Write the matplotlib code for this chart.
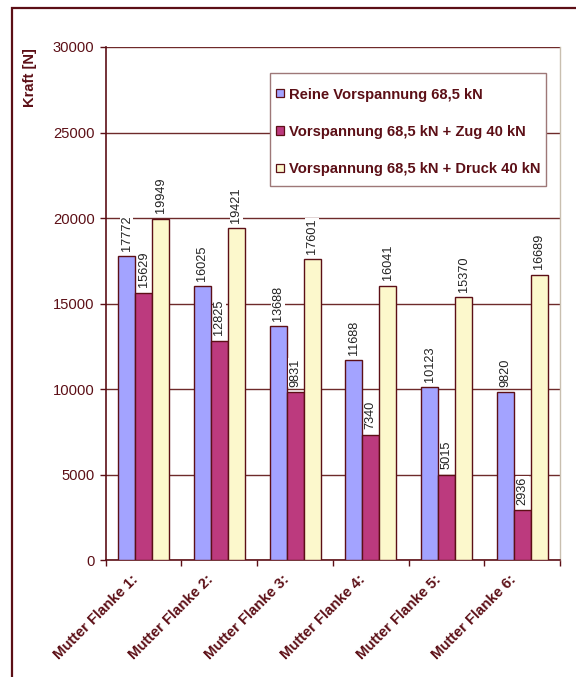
import matplotlib
matplotlib.use("Agg")
import matplotlib.pyplot as plt
import matplotlib.transforms as mtransforms
from matplotlib.patches import Rectangle
import numpy as np

plt.rcParams['font.family'] = ['Liberation Sans', 'DejaVu Sans']

categories = ["Mutter Flanke 1:", "Mutter Flanke 2:", "Mutter Flanke 3:",
              "Mutter Flanke 4:", "Mutter Flanke 5:", "Mutter Flanke 6:"]
series_names = ["Reine Vorspannung 68,5 kN",
                "Vorspannung 68,5 kN + Zug 40 kN",
                "Vorspannung 68,5 kN + Druck 40 kN"]
rein = [17772, 16025, 13688, 11688, 10123, 9820]
zug = [15629, 12825, 9831, 7340, 5015, 2936]
druck = [19949, 19421, 17601, 16041, 15370, 16689]
yticks = [0, 5000, 10000, 15000, 20000, 25000, 30000]

colors = ["#A3A3FF", "#BC3A7E", "#FCF8CC"]
maroon = "#5C0F16"
grid_col = "#6E2A2A"
fs = 10.6

W, H = 576, 677
fig = plt.figure(figsize=(W / 100, H / 100), dpi=100)
ax = fig.add_axes([0.1835, 0.1721, 0.789, 0.7585])


def px(x, y):
    """pixel position (top-left origin) -> figure fraction"""
    return x / W, 1 - y / H


# outer chart frame
fig.patches.append(Rectangle((12 / W, -0.05), 1.2, 1 - 8 / H + 0.05,
                             transform=fig.transFigure, fill=False,
                             edgecolor=maroon, linewidth=1.6, zorder=0))

n = len(categories)
x = np.arange(n)
w = 0.224
for i, (vals, col) in enumerate(zip([rein, zug, druck], colors)):
    pos = x + (i - 1) * w
    ax.bar(pos, vals, width=w, color=col, edgecolor=maroon, linewidth=1.0,
           zorder=3)
    for xp, v in zip(pos, vals):
        ax.annotate(str(v), (xp, v), xytext=(0, 4), textcoords="offset points",
                    rotation=90, ha="center", va="bottom", fontsize=9.2,
                    color="#222222", zorder=4,
                    bbox=dict(boxstyle="square,pad=0.05", fc="white", ec="none"))

ax.set_xlim(-0.5, n - 0.5)
ax.set_ylim(0, 30000)
ax.set_yticks(yticks)
ax.set_yticklabels([str(t) for t in yticks], fontsize=fs, color=maroon)
ax.yaxis.grid(True, color=grid_col, linewidth=1.0, zorder=0)
ax.set_axisbelow(True)

# ticks between categories; category names drawn diagonally below
ax.set_xticks(np.arange(-0.5, n, 1.0))
ax.set_xticklabels([])
ax.tick_params(axis="x", which="major", length=4, width=1.0, color=maroon,
               direction="out")
ax.tick_params(axis="y", length=4, width=1.0, color=maroon, direction="out", pad=4)
lab_tr = ax.get_xaxis_transform() + mtransforms.ScaledTranslation(
    -13 / 100, -12 / 100, fig.dpi_scale_trans)
for xi, name in zip(x, categories):
    ax.text(xi, 0, name, transform=lab_tr, rotation=45, ha="right", va="top",
            rotation_mode="anchor", fontsize=fs, fontweight="bold",
            color=maroon, clip_on=False)

for side in ["left", "bottom"]:
    ax.spines[side].set_color(maroon)
    ax.spines[side].set_linewidth(1.2)
ax.spines["top"].set_visible(False)
ax.spines["right"].set_color("#C9BFAF")
ax.spines["right"].set_linewidth(1.0)

fig.text(*px(30, 78), "Kraft [N]", rotation=90, ha="center",
         va="center", fontsize=fs, fontweight="bold", color=maroon)

# legend box
lx0, ly0, lx1, ly1 = 270, 73, 546, 186
bx, by = px(lx0, ly1)
fig.patches.append(Rectangle((bx, by), (lx1 - lx0) / W, (ly1 - ly0) / H,
                             transform=fig.transFigure, facecolor="white",
                             edgecolor="#9E7878", linewidth=1.0, zorder=5))
rows = [93, 130.5, 168]
for ry, col, name in zip(rows, colors, series_names):
    sx, sy = px(276, ry + 4)
    fig.patches.append(Rectangle((sx, sy), 8 / W, 8 / H,
                                 transform=fig.transFigure, facecolor=col,
                                 edgecolor=maroon, linewidth=0.9, zorder=6))
    fig.text(*px(289, ry), name, ha="left", va="center_baseline", fontsize=fs,
             fontweight="bold", color=maroon, zorder=7)

fig.savefig("out.png", dpi=100)
